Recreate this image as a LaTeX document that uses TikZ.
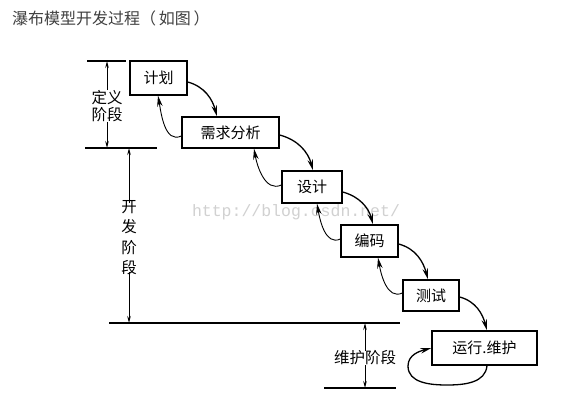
\documentclass[tikz,border=0pt]{standalone}
\usepackage{fontspec}
\setmainfont{Noto Sans CJK SC}
\newfontfamily\wmfont{Liberation Mono}
\usetikzlibrary{arrows.meta}
\begin{document}
\begin{tikzpicture}[x=1pt,y=1pt,
  stage/.style={draw,line width=1.3pt,minimum height=32pt,inner sep=0pt,font=\fontsize{15}{15}\selectfont},
  fwd/.style={line width=1.3pt,-{Stealth[length=11pt,width=5.5pt]}},
  bwd/.style={line width=0.9pt,-{Stealth[length=11pt,width=5.5pt]}},
  dim/.style={line width=1pt,-{Stealth[length=7pt,width=3.5pt]}},
  rule/.style={line width=1.1pt},
  lbl/.style={font=\fontsize{15.5}{17}\selectfont,inner sep=0pt,align=center}]
\useasboundingbox (0,0) rectangle (576,-404);
\fill[white] (0,0) rectangle (576,-404);
% title
\node[anchor=west,inner sep=0pt,text=black!75,font=\fontsize{16}{16}\selectfont] (title) at (12,-18) {瀑布模型开发过程（\,如图\,）};
% watermark
\node[inner sep=0pt,text=black!18,font=\wmfont\fontsize{16.5}{16.5}\selectfont] (wm) at (296,-212) {http://blog.csdn.net/};
% stages
\node[stage,minimum width=57pt,minimum height=34pt] (plan) at (158.5,-78) {计划};
\node[stage,minimum width=97pt,minimum height=31pt] (req) at (230.5,-132.5) {需求分析};
\node[stage,minimum width=60pt,minimum height=32pt] (des) at (312,-187) {设计};
\node[stage,minimum width=57pt,minimum height=32pt] (cod) at (369.5,-241) {编码};
\node[stage,minimum width=56pt,minimum height=31pt] (tst) at (431,-295.5) {测试};
\node[stage,minimum width=105pt,minimum height=34pt] (run) at (484.5,-348) {运行.维护};
% forward arrows
\draw[fwd] (plan.east|-0,-82) to[out=-15,in=105] (req.north-|217,0);
\draw[fwd] (req.east|-0,-135) to[out=-15,in=105] (des.north-|313,0);
\draw[fwd] (des.east|-0,-192) to[out=-15,in=105] (cod.north-|373,0);
\draw[fwd] (cod.east|-0,-244) to[out=-15,in=105] (tst.north-|428,0);
\draw[fwd] (tst.east|-0,-297) to[out=-15,in=105] (run.north-|487,0);
% backward arrows
\draw[bwd] (req.west|-0,-136) to[out=205,in=-80] (plan.south-|158,0);
\draw[bwd] (des.west|-0,-185) to[out=205,in=-80] (req.south-|254,0);
\draw[bwd] (cod.west|-0,-239) to[out=205,in=-80] (des.south-|317,0);
\draw[bwd] (tst.west|-0,-293) to[out=205,in=-80] (cod.south-|378,0);
% self loop
\coordinate (lpA) at (447,-385);
\coordinate (lpB) at (408,-366);
\draw[line width=1.3pt] (run.south-|487,0) to[out=-95,in=0] (lpA) to[out=180,in=-90] (lpB);
\draw[fwd] (lpB) to[out=90,in=195] (run.west|-0,-348);
% left rules
\coordinate (r1a) at (87,-61); \coordinate (r1b) at (126,-61);
\coordinate (r2a) at (85,-148); \coordinate (r2b) at (157,-148);
\coordinate (r3a) at (109,-323); \coordinate (r3b) at (400,-323);
\coordinate (r4a) at (324,-388); \coordinate (r4b) at (396,-388);
\draw[rule] (r1a) -- (r1b);
\draw[rule] (r2a) -- (r2b);
\draw[rule] (r3a) -- (r3b);
\draw[rule] (r4a) -- (r4b);
% definition phase
\node[lbl] (defn) at (107,-106) {定义\\阶段};
\draw[dim] (defn.north) -- (107,-61);
\draw[dim] (defn.south) -- (107,-148);
% development phase
\node[lbl,font=\fontsize{15.5}{20.3}\selectfont] (devp) at (129,-237.5) {开\\发\\阶\\段};
\draw[dim] (devp.north) ++(0,-3) -- (129,-148);
\draw[dim] (devp.south) ++(0,3) -- (129,-323);
% maintenance phase
\node[lbl,fill=white,inner xsep=1pt] (mnt) at (365,-358) {维护阶段};
\draw[dim] (mnt.north) -- (365,-323);
\draw[dim] (mnt.south) -- (365,-388);
\end{tikzpicture}
\end{document}
